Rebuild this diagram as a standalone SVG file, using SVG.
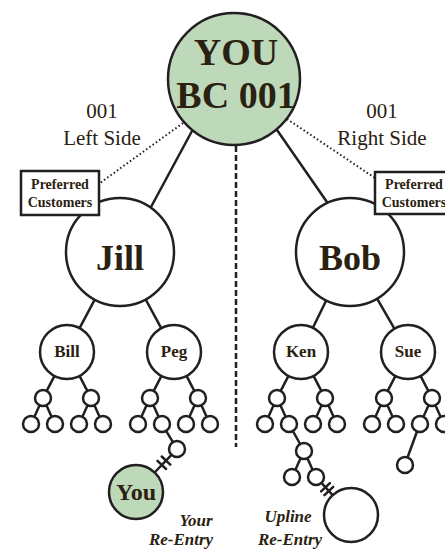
<svg xmlns="http://www.w3.org/2000/svg" width="445" height="549" viewBox="0 0 445 549">
<style>
.ln{stroke:#231f20;stroke-width:2.5;fill:none;stroke-linecap:round}
.nd{stroke:#231f20;stroke-width:2.5;fill:#ffffff}
.sm{stroke:#231f20;stroke-width:2.5;fill:#ffffff}
.gr{fill:#bed8ba}
.dot{stroke:#231f20;stroke-width:2;fill:none;stroke-dasharray:1.5 2.5}
.dash{stroke:#231f20;stroke-width:2.5;fill:none;stroke-dasharray:6 3}
.box{stroke:#231f20;stroke-width:2.5;fill:#ffffff}
text{font-family:"Liberation Serif","DejaVu Serif",serif;fill:#2b2110;text-anchor:middle}
.b{font-weight:bold}
.it{font-weight:bold;font-style:italic;font-size:17px}
</style>
<rect width="445" height="549" fill="#ffffff"/>
<g id="connectors">
<line class="dash" x1="236" y1="146" x2="236" y2="447"/>
<line class="dot" x1="183" y1="123" x2="100" y2="183"/>
<line class="dot" x1="287" y1="119" x2="375" y2="178"/>
<line class="ln" x1="192" y1="131" x2="151" y2="207"/>
<line class="ln" x1="277" y1="130" x2="329" y2="205"/>
<line class="ln" x1="94.7" y1="299.7" x2="79.6" y2="328.2"/>
<line class="ln" x1="145.7" y1="299.5" x2="161.2" y2="328.2"/>
<line class="ln" x1="326.2" y1="300.5" x2="312.9" y2="327.8"/>
<line class="ln" x1="377.1" y1="298.7" x2="394.4" y2="328.6"/>
<path class="ln" d="M54.5 375.9L46.7 390.9M79.5 375.9L87.3 390.9M161.5 375.9L153.7 390.9M186.5 375.9L194.3 390.9M288.5 375.9L280.7 390.9M313.5 375.9L321.3 390.9M395.5 375.9L387.7 390.9M420.5 375.9L428.3 390.9"/>
<path class="ln" d="M39.6 405.3L34.4 416.7M46.4 405.3L51.6 416.7M87.6 405.3L82.4 416.7M94.4 405.3L99.6 416.7M146.6 405.3L141.4 416.7M153.4 405.3L158.6 416.7M194.6 405.3L189.4 416.7M201.4 405.3L206.6 416.7M273.6 405.3L268.4 416.7M280.4 405.3L285.6 416.7M321.6 405.3L316.4 416.7M328.4 405.3L333.6 416.7M380.6 405.3L375.4 416.7M387.4 405.3L392.6 416.7M428.6 405.3L423.4 416.7M435.4 405.3L440.6 416.7"/>
<path class="ln" d="M166.1 430.9L172.9 442.1M171.5 454.8L154.6 472.5M170.3 464.7L161.7 456.5M166.1 469L157.5 460.8"/>
<path class="ln" d="M292.9 431L300.1 444M300.6 458.3L295.4 469.7M307.4 458.3L312.6 469.7M321.4 482.9L332.7 495.2M329.9 483.2L321.1 491.4M333.2 486.9L324.4 495.1"/>
<path class="ln" d="M417 431.5L407.5 457.5"/>
</g>
<g id="you-top"><circle class="nd gr" cx="234" cy="79" r="66"/><text class="b" x="236" y="65" font-size="38">YOU</text><text class="b" x="236" y="108" font-size="38">BC 001</text></g>
<g id="left-label"><text x="102" y="118" font-size="21">001</text><text x="102" y="145" font-size="21">Left Side</text></g>
<g id="right-label"><text x="382" y="118" font-size="21">001</text><text x="382" y="145" font-size="21">Right Side</text></g>
<g id="jill"><circle class="nd" cx="120" cy="252" r="54"/><text class="b" x="120" y="270" font-size="36">Jill</text></g>
<g id="bob"><circle class="nd" cx="350" cy="252" r="54"/><text class="b" x="350" y="270" font-size="36">Bob</text></g>
<g id="pc-left"><rect class="box" x="21" y="171" width="78" height="44"/><text class="b" x="60" y="189" font-size="14">Preferred</text><text class="b" x="60" y="207" font-size="14">Customers</text></g>
<g id="pc-right"><rect class="box" x="375" y="172" width="78" height="42"/><text class="b" x="414" y="189" font-size="14">Preferred</text><text class="b" x="414" y="207" font-size="14">Customers</text></g>
<g id="bill"><circle class="nd" cx="67" cy="352" r="27"/><text class="b" x="67" y="357" font-size="17">Bill</text></g>
<g id="peg"><circle class="nd" cx="174" cy="352" r="27"/><text class="b" x="174" y="357" font-size="17">Peg</text></g>
<g id="ken"><circle class="nd" cx="301" cy="352" r="27"/><text class="b" x="301" y="357" font-size="17">Ken</text></g>
<g id="sue"><circle class="nd" cx="408" cy="352" r="27"/><text class="b" x="408" y="357" font-size="17">Sue</text></g>
<g id="bill-downline"><circle class="sm" cx="43" cy="398" r="8"/><circle class="sm" cx="91" cy="398" r="8"/><circle class="sm" cx="31" cy="424" r="8"/><circle class="sm" cx="55" cy="424" r="8"/><circle class="sm" cx="79" cy="424" r="8"/><circle class="sm" cx="103" cy="424" r="8"/></g>
<g id="peg-downline"><circle class="sm" cx="150" cy="398" r="8"/><circle class="sm" cx="198" cy="398" r="8"/><circle class="sm" cx="138" cy="424" r="8"/><circle class="sm" cx="162" cy="424" r="8"/><circle class="sm" cx="186" cy="424" r="8"/><circle class="sm" cx="210" cy="424" r="8"/><circle class="sm" cx="177" cy="449" r="8"/></g>
<g id="ken-downline"><circle class="sm" cx="277" cy="398" r="8"/><circle class="sm" cx="325" cy="398" r="8"/><circle class="sm" cx="265" cy="424" r="8"/><circle class="sm" cx="289" cy="424" r="8"/><circle class="sm" cx="313" cy="424" r="8"/><circle class="sm" cx="337" cy="424" r="8"/><circle class="sm" cx="304" cy="451" r="8"/><circle class="sm" cx="292" cy="477" r="8"/><circle class="sm" cx="316" cy="477" r="8"/></g>
<g id="sue-downline"><circle class="sm" cx="384" cy="398" r="8"/><circle class="sm" cx="432" cy="398" r="8"/><circle class="sm" cx="372" cy="424" r="8"/><circle class="sm" cx="396" cy="424" r="8"/><circle class="sm" cx="420" cy="424" r="8"/><circle class="sm" cx="444" cy="424" r="8"/><circle class="sm" cx="405" cy="465" r="8"/></g>
<g id="you-reentry"><circle class="nd gr" cx="136" cy="492" r="27"/><text class="b" x="136" y="500" font-size="24">You</text></g>
<g id="upline-reentry"><circle class="nd" cx="351" cy="515" r="27"/></g>
<g id="labels"><text class="it" x="196" y="526">Your</text><text class="it" x="181" y="545">Re-Entry</text><text class="it" x="288" y="522">Upline</text><text class="it" x="290" y="545">Re-Entry</text></g>
</svg>
